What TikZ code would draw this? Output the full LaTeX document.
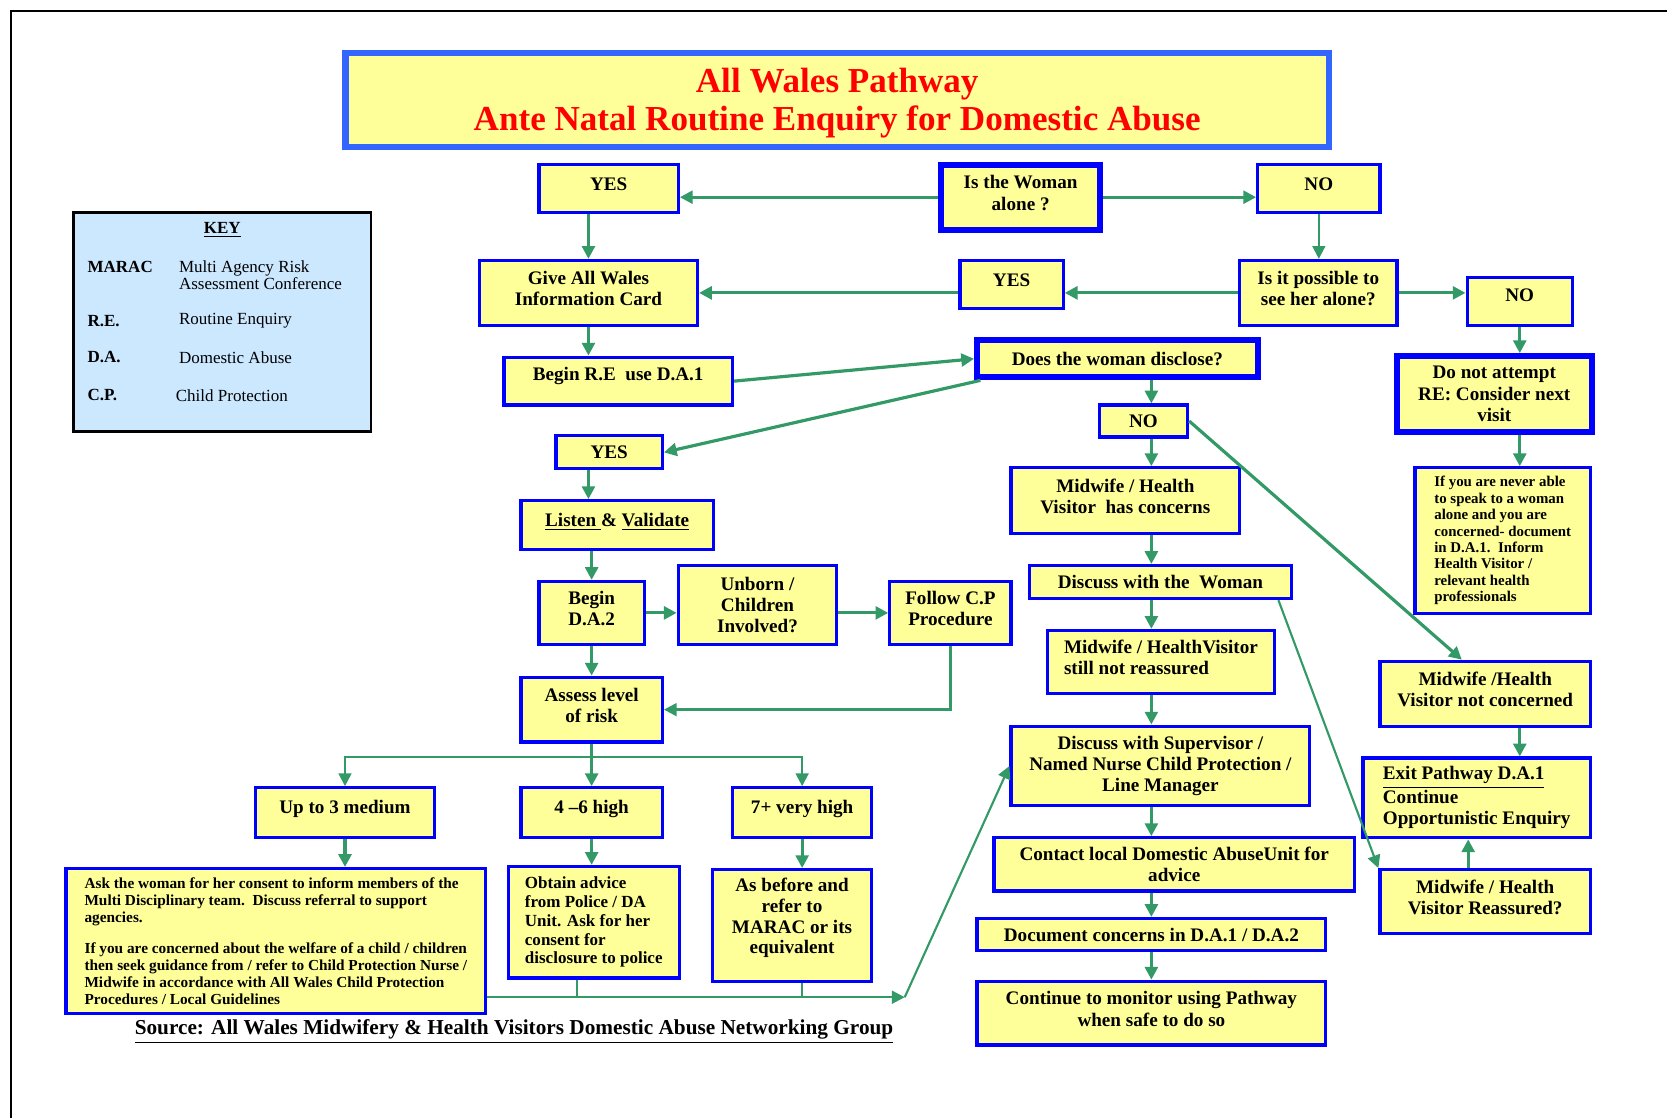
\documentclass[tikz,border=0pt]{standalone}
\usepackage{fontspec}
\setmainfont{Liberation Serif}
\usepackage{xcolor}
\usetikzlibrary{arrows.meta}
\definecolor{boxblue}{HTML}{0000FF}
\definecolor{titleblue}{HTML}{3366FF}
\definecolor{titlered}{HTML}{FF0000}
\definecolor{boxyellow}{HTML}{FFFF99}
\definecolor{keyblue}{HTML}{CCE8FF}
\definecolor{flowgreen}{HTML}{339966}

\begin{document}
\begin{tikzpicture}[x=0.5pt, y=-0.5pt,
    box/.style={draw=boxblue, line width=1.5pt, fill=boxyellow, align=center,
        inner sep=0pt, font=\bfseries\fontsize{9}{10}\selectfont},
    raised/.style={text depth=4pt},
    heavybox/.style={box, line width=2.8pt},
    smallbox/.style={box, align=left, font=\bfseries\fontsize{7}{7.7}\selectfont},
    keytxt/.style={anchor=west, inner sep=0pt, align=left, font=\fontsize{8}{8.2}\selectfont},
    keyabbr/.style={keytxt, font=\bfseries\fontsize{8}{8.2}\selectfont},
    flow/.style={draw=flowgreen, line width=1.5pt, -{Triangle[length=6pt,width=6pt]}},
    thinflow/.style={flow, line width=1pt},
    joinline/.style={draw=flowgreen, line width=1pt}]
    \useasboundingbox (0,0) rectangle (1568,1052);
    \draw[line width=1pt] (1568,10) -- (10,10) -- (10,1052);

    % title and key
    \node[box, draw=titleblue, line width=3pt, minimum width=462.5pt, minimum height=44pt, text depth=0.5pt,
        text=titlered, font=\bfseries\fontsize{16.5}{17.5}\selectfont] (title) at (787.5,94)
        {All Wales Pathway\\Ante Natal Routine Enquiry for Domestic Abuse};

    \node[draw=black, line width=1.2pt, fill=keyblue, minimum width=140pt, minimum height=103pt] (key) at (209,303) {};
    \node[font=\bfseries\fontsize{8}{8.2}\selectfont] (keyhead) at (209,216) {\underline{KEY}};
    \node[keyabbr] (kmarac) at (82,251) {MARAC};
    \node[keytxt] (kmaracdef) at (168,259) {Multi Agency Risk\\Assessment Conference};
    \node[keyabbr] (kre) at (82,302) {R.E.};
    \node[keytxt] (kredef) at (168,302) {Routine Enquiry};
    \node[keyabbr] (kda) at (82,336) {D.A.};
    \node[keytxt] (kdadef) at (168,336) {Domestic Abuse};
    \node[keyabbr] (kcp) at (82,372) {C.P.};
    \node[keytxt] (kcpdef) at (165,372) {Child Protection};

    % top of the pathway
    \node[heavybox, raised, minimum width=75pt, minimum height=30.5pt] (alone) at (960,185.5) {Is the Woman\\alone ?};
    \node[box, raised, minimum width=65.5pt, minimum height=22.5pt] (yes1) at (572.5,177.5) {YES};
    \node[box, raised, minimum width=57.5pt, minimum height=22.5pt] (no1) at (1240.5,177.5) {NO};
    \node[box, raised, minimum width=102.5pt, minimum height=30.5pt] (card) at (553.5,275.5) {Give All Wales\\Information Card};
    \node[box, raised, minimum width=48.5pt, minimum height=22.5pt] (yes2) at (951.5,267.5) {YES};
    \node[box, raised, minimum width=74pt, minimum height=30.5pt] (possible) at (1240,275.5) {Is it possible to\\see her alone?};
    \node[box, text depth=6pt, minimum width=49.5pt, minimum height=22.5pt] (no2) at (1429.5,283.5) {NO};
    \node[box, text depth=7pt, minimum width=107.5pt, minimum height=22.5pt] (beginre) at (581.5,358.5) {Begin R.E\ \ use D.A.1};
    \node[heavybox, minimum width=132pt, minimum height=17.5pt] (disclose) at (1051,337.5) {Does the woman disclose?};
    \node[heavybox, minimum width=91.5pt, minimum height=35.5pt] (notattempt) at (1405.5,370.5) {Do not attempt\\RE: Consider next\\visit};

    % disclosure
    \node[box, minimum width=41.5pt, minimum height=15pt] (no3) at (1075.5,396) {NO};
    \node[box, minimum width=50pt, minimum height=15.5pt] (yes3) at (573,425.5) {YES};
    \node[box, raised, minimum width=107.5pt, minimum height=31pt] (hasconcerns) at (1058.5,471) {Midwife / Health\\Visitor\ \ has concerns};
    \node[smallbox, minimum width=82.5pt, minimum height=68.5pt] (never) at (1413.5,508.5)
        {If you are never able\\to speak to a woman\\alone and you are\\concerned- document\\in D.A.1.\ \ Inform\\Health Visitor /\\relevant health\\professionals};
    \node[box, text depth=5pt, minimum width=90.5pt, minimum height=23pt] (listen) at (580.5,494) {\underline{Listen }\& \underline{Validate}};
    \node[box, minimum width=123.5pt, minimum height=15.5pt] (discuss) at (1091.5,547.5) {Discuss with the\ \ Woman};
    \node[box, raised, minimum width=49.5pt, minimum height=29.5pt] (beginda2) at (556.5,576.5) {Begin\\D.A.2};
    \node[box, minimum width=74.5pt, minimum height=37pt] (unborn) at (712.5,569) {Unborn /\\Children\\Involved?};
    \node[box, raised, minimum width=57pt, minimum height=29.5pt] (followcp) at (894,576.5) {Follow C.P\\Procedure};
    \node[box, raised, align=left, minimum width=107pt, minimum height=29.5pt] (notreassured) at (1092,622.5) {Midwife / HealthVisitor\\still not reassured};
    \node[box, raised, minimum width=99pt, minimum height=30.5pt] (notconcerned) at (1397,652.5) {Midwife /Health\\Visitor not concerned};
    \node[box, raised, minimum width=66.5pt, minimum height=30.5pt] (assess) at (556.5,667.5) {Assess level\\of risk};
    \node[box, minimum width=140.5pt, minimum height=37.5pt] (supervisor) at (1091.5,720.5) {Discuss with Supervisor /\\Named Nurse Child Protection /\\Line Manager};
    \node[box, align=left, minimum width=107pt, minimum height=37.5pt] (exit) at (1389,750.5) {\underline{Exit Pathway D.A.1}\\Continue\\Opportunistic Enquiry};

    % level of risk
    \node[box, text depth=6pt, minimum width=84.5pt, minimum height=23.5pt] (upto3) at (324.5,764.5) {Up to 3 medium};
    \node[box, text depth=6pt, minimum width=66.5pt, minimum height=23.5pt] (high) at (556.5,764.5) {4 --6 high};
    \node[box, text depth=6pt, minimum width=65.5pt, minimum height=23.5pt] (veryhigh) at (754.5,764.5) {7+ very high};
    \node[box, minimum width=169.5pt, minimum height=25pt] (contact) at (1104.5,813) {Contact local Domestic AbuseUnit for\\advice};
    \node[box, raised, minimum width=99pt, minimum height=30pt] (reassured) at (1397,848) {Midwife / Health\\Visitor Reassured?};
    \node[box, align=left, minimum width=197.5pt, minimum height=68pt, font=\bfseries\fontsize{7.2}{8}\selectfont] (ask) at (259.5,885)
        {Ask the woman for her consent to inform members of the\\Multi Disciplinary team.\ \ Discuss referral to support\\agencies.\\[6.5pt]
         If you are concerned about the welfare of a child / children\\then seek guidance from / refer to Child Protection Nurse /\\Midwife in accordance with All Wales Child Protection\\Procedures / Local Guidelines};
    \node[box, align=left, minimum width=80.5pt, minimum height=52.5pt, font=\bfseries\fontsize{8}{8.8}\selectfont] (obtain) at (558.5,867.5)
        {Obtain advice\\from Police / DA\\Unit. Ask for her\\consent for\\disclosure to police};
    \node[box, text depth=9pt, minimum width=75pt, minimum height=52.5pt, font=\bfseries\fontsize{9}{9.8}\selectfont] (before) at (745,870.5)
        {As before and\\refer to\\MARAC or its\\equivalent};
    \node[box, minimum width=164pt, minimum height=15pt] (document) at (1083,879) {Document concerns in D.A.1 / D.A.2};
    \node[box, raised, minimum width=164pt, minimum height=30pt] (monitor) at (1083,953) {Continue to monitor using Pathway\\when safe to do so};

    \node[font=\bfseries\fontsize{10}{11}\selectfont] (source) at (483.5,970)
        {\underline{Source: All Wales Midwifery \& Health Visitors Domestic Abuse Networking Group}};

    % connectors
    \draw[flow] (alone.west) -- (alone.west -| yes1.east);
    \draw[flow] (alone.east) -- (alone.east -| no1.west);
    \draw[flow] (yes1.south -| card.north) -- (card.north);
    \draw[thinflow] (no1.south) -- (no1.south |- possible.north);
    \draw[flow] (possible.west) -- (possible.west -| yes2.east);
    \draw[flow] (card.east -| yes2.west) -- (card.east);
    \draw[flow] (possible.east) -- (possible.east -| no2.west);
    \draw[flow] (no2.south) -- (no2.south |- notattempt.north);
    \draw[flow] (card.south) -- (card.south |- beginre.north);
    \draw[flow] (beginre.east) -- (disclose.west);
    \draw[flow] ([xshift=3pt]disclose.south west) -- (yes3.east);
    \draw[flow] (disclose.south -| document.north) -- (no3.north -| document.north);
    \draw[flow] (notattempt.south -| no2.south) -- (never.north -| no2.south);
    \draw[flow] (no3.south -| document.north) -- (hasconcerns.north -| document.north);
    \draw[flow] (no3.east) -- ([xshift=-11pt]notconcerned.north);
    \draw[flow] (yes3.south -| card.south) -- (listen.north -| card.south);
    \draw[flow] (listen.south -| beginda2.north) -- (beginda2.north);
    \draw[flow] (beginda2.east) -- (beginda2.east -| unborn.west);
    \draw[flow] (followcp.west -| unborn.east) -- (followcp.west);
    \draw[flow, line width=1.2pt] (followcp.south) |- (assess.east);
    \draw[flow] (beginda2.south) -- (assess.north);
    \draw[flow] (hasconcerns.south -| document.north) -- (discuss.north -| document.north);
    \draw[flow] (discuss.south -| document.north) -- (notreassured.north -| document.north);
    \draw[thinflow] ([xshift=-7pt]discuss.south east) -- (reassured.north west);
    \draw[flow] (notreassured.south -| document.north) -- (supervisor.north -| document.north);
    \draw[flow] (supervisor.south -| document.north) -- (contact.north -| document.north);
    \draw[flow] (contact.south -| document.north) -- (document.north);
    \draw[flow] (document.south) -- (monitor.north);
    \draw[flow] (notconcerned.south -| no2.south) -- (exit.north -| no2.south);
    \draw[flow] ([xshift=-4pt]reassured.north -| exit.south) -- ([xshift=-4pt]exit.south);

    % split by level of risk
    \coordinate (split) at (556.5,712);
    \draw[joinline, line width=1.5pt] (assess.south) -- (split);
    \draw[flow, line width=1pt] (split) -| (upto3.north);
    \draw[flow, line width=1pt] (split) -| (veryhigh.north);
    \draw[flow] (split) -- (high.north);
    \draw[flow] (upto3.south) -- (upto3.south |- ask.north);
    \draw[flow] (high.south) -- (high.south |- obtain.north);
    \draw[flow] (veryhigh.south) -- (veryhigh.south |- before.north);

    % back to the supervisor
    \coordinate (collect) at (851,938);
    \draw[thinflow] (ask.east |- collect) -- (collect);
    \draw[joinline] ([xshift=-8pt]obtain.south) -- ([xshift=-8pt]obtain.south |- collect);
    \draw[joinline] (before.south -| veryhigh.south) -- (veryhigh.south |- collect);
    \draw[thinflow] (collect) -- (supervisor.west);
\end{tikzpicture}
\end{document}
